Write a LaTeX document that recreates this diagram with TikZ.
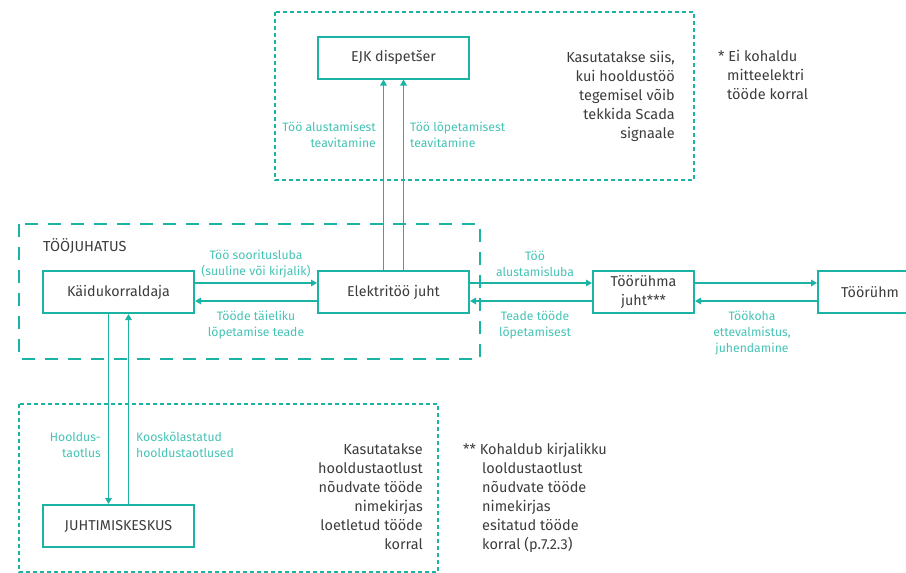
\documentclass[tikz,border=0pt]{standalone}
\usepackage{fontspec}
\setmainfont{Fira Sans}
\usetikzlibrary{arrows.meta}
\definecolor{teal1}{HTML}{1BB3A3}
\definecolor{tealtxt}{HTML}{45C3B5}
\definecolor{graytxt}{HTML}{3C3C3B}
\tikzset{
  box/.style={draw=teal1, line width=2pt, minimum width=151pt, minimum height=42pt, inner sep=0pt, text=graytxt, font=\fontsize{14.3}{19}\selectfont, align=center},
  arr/.style={draw=teal1, line width=1.8pt, -{Triangle[length=6pt,width=6.5pt]}},
  lbl/.style={text=tealtxt, font=\fontsize{12.2}{16}\selectfont, inner sep=0pt},
  note/.style={text=graytxt, font=\fontsize{14.5}{19}\selectfont, inner sep=0pt},
  dotbox/.style={draw=teal1, line width=1.6pt, dash pattern=on 4pt off 3pt},
  dashbox/.style={draw=teal1, line width=1.6pt, dash pattern=on 13pt off 10pt},
}
\begin{document}
\begin{tikzpicture}[x=1pt,y=-1pt]
\useasboundingbox (0,0) rectangle (906,573);
% group frames
\draw[dotbox] (275,12) rectangle (694,180);
\draw[dashbox] (19,224) rectangle (480,359);
\draw[dotbox] (19,404) rectangle (438,572);
% boxes
\node[box] (ejk) at (393.5,57.5) {EJK dispetšer};
\node[box] (kaid) at (118.5,292) {Käidukorraldaja};
\node[box] (elek) at (393.5,292) {Elektritöö juht};
\node[box, minimum width=101pt] (trj) at (643.5,292) {Töörühma\\juht***};
\node[box, minimum width=110pt] (tr) at (873,292) {};
\node[text=graytxt, font=\fontsize{14.3}{19}\selectfont, inner sep=0pt] (trtxt) at (870,292) {Töörühm};
\node[box] (jk) at (118.5,526) {JUHTIMISKESKUS};
% arrows
\draw[arr] ([xshift=-10pt]elek.north) -- ([xshift=-10pt]ejk.south);
\draw[arr] ([xshift=10pt]elek.north) -- ([xshift=10pt]ejk.south);
\draw[arr] ([yshift=9pt]kaid.east) -- ([yshift=9pt]elek.west);
\draw[arr] ([yshift=-9pt]elek.west) -- ([yshift=-9pt]kaid.east);
\draw[arr] ([yshift=9pt]elek.east) -- ([yshift=9pt]trj.west);
\draw[arr] ([yshift=-9pt]trj.west) -- ([yshift=-9pt]elek.east);
\draw[arr] ([yshift=9pt]trj.east) -- ([yshift=9pt]tr.west);
\draw[arr] ([yshift=-9pt]tr.west) -- ([yshift=-9pt]trj.east);
\draw[arr] ([xshift=-10pt]kaid.south) -- ([xshift=-10pt]jk.north);
\draw[arr] ([xshift=10pt]jk.north) -- ([xshift=10pt]kaid.south);
% labels
\node[lbl, anchor=east, align=right] (l1) at (376,135) {Töö alustamisest\\teavitamine};
\node[lbl, anchor=west, align=left] (l2) at (410,135) {Töö lõpetamisest\\teavitamine};
\node[lbl, align=center] (l3) at (256,264) {Töö sooritusluba\\(suuline või kirjalik)};
\node[lbl, align=center] (l4) at (256,325) {Tööde täieliku\\lõpetamise teade};
\node[lbl, align=center] (l5) at (535,264) {Töö\\alustamisluba};
\node[lbl, align=center] (l6) at (535,325) {Teade tööde\\lõpetamisest};
\node[lbl, align=center] (l7) at (752,333) {Töökoha\\ettevalmistus,\\juhendamine};
\node[lbl, anchor=east, align=right] (l8) at (101,445) {Hooldus-\\taotlus};
\node[lbl, anchor=west, align=left] (l9) at (136,445) {Kooskõlastatud\\hooldustaotlused};
% notes
\node[note, anchor=west] (tj) at (43,246) {TÖÖJUHATUS};
\node[note, anchor=north east, align=right] (n1) at (675,51) {Kasutatakse siis,\\kui hooldustöö\\tegemisel võib\\tekkida Scada\\signaale};
\node[note, anchor=north west, align=left] (n2) at (718,50) {* Ei kohaldu\\\hspace*{9pt}mitteelektri\\\hspace*{9pt}tööde korral};
\node[note, anchor=north east, align=right] (n3) at (423,443) {Kasutatakse\\hooldustaotlust\\nõudvate tööde\\nimekirjas\\loetletud tööde\\korral};
\node[note, anchor=north west, align=left] (n4) at (463,443) {** Kohaldub kirjalikku\\\hspace*{19pt}looldustaotlust\\\hspace*{19pt}nõudvate tööde\\\hspace*{19pt}nimekirjas\\\hspace*{19pt}esitatud tööde\\\hspace*{19pt}korral (p.7.2.3)};
\end{tikzpicture}
\end{document}
